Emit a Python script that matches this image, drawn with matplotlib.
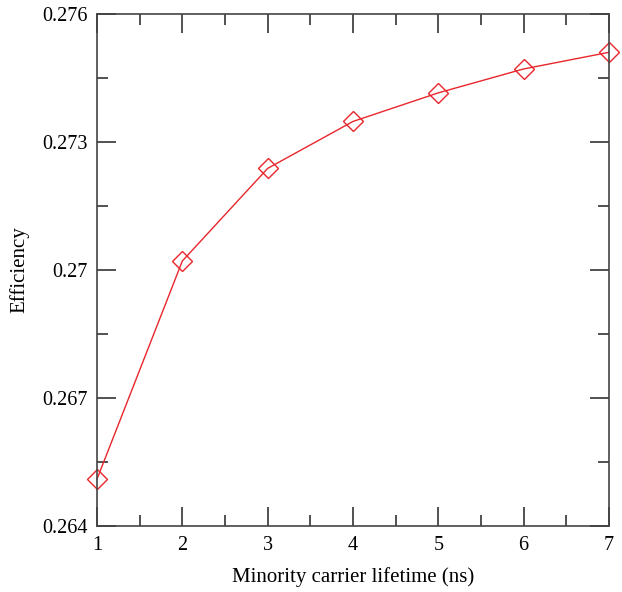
import numpy as np
import matplotlib.pyplot as plt
from matplotlib.ticker import MultipleLocator, FixedLocator

plt.rcParams['font.family'] = ['Liberation Serif', 'DejaVu Serif']

# Efficiency vs minority carrier lifetime
lifetime = [1, 2, 3, 4, 5, 6, 7]
efficiency = [0.26510, 0.27021, 0.27238, 0.27348, 0.27415, 0.27471, 0.27510]
ytick_vals = [0.264, 0.267, 0.270, 0.273, 0.276]
ytick_labels = ['0.264', '0.267', '0.27', '0.273', '0.276']

fig = plt.figure(figsize=(6.22, 5.92), dpi=100)
ax = fig.add_axes([0.156, 0.1115, 0.823, 0.865])

ax.plot(lifetime, efficiency, color='#e8262b', lw=1.0, marker='D',
        ms=10.5, mfc='none', mec='#e8262b', mew=1.0, clip_on=False)

ax.set_xlim(1, 7)
ax.set_ylim(0.264, 0.276)
ax.xaxis.set_major_locator(MultipleLocator(1))
ax.xaxis.set_minor_locator(MultipleLocator(0.5))
ax.yaxis.set_major_locator(FixedLocator(ytick_vals))
ax.set_yticklabels(ytick_labels)
ax.yaxis.set_minor_locator(MultipleLocator(0.0015))

ax.tick_params(which='both', direction='in', top=True, right=True,
               color='#222222', width=1.1, labelsize=14.5, pad=7)
ax.tick_params(which='major', length=13.5)
ax.tick_params(which='minor', length=8)
for s in ax.spines.values():
    s.set_color('#444444')
    s.set_linewidth(1.2)

ax.set_xlabel('Minority carrier lifetime (ns)', fontsize=15, labelpad=9)
ax.set_ylabel('Efficiency', fontsize=15, labelpad=9)

fig.savefig('out.png', dpi=100)
